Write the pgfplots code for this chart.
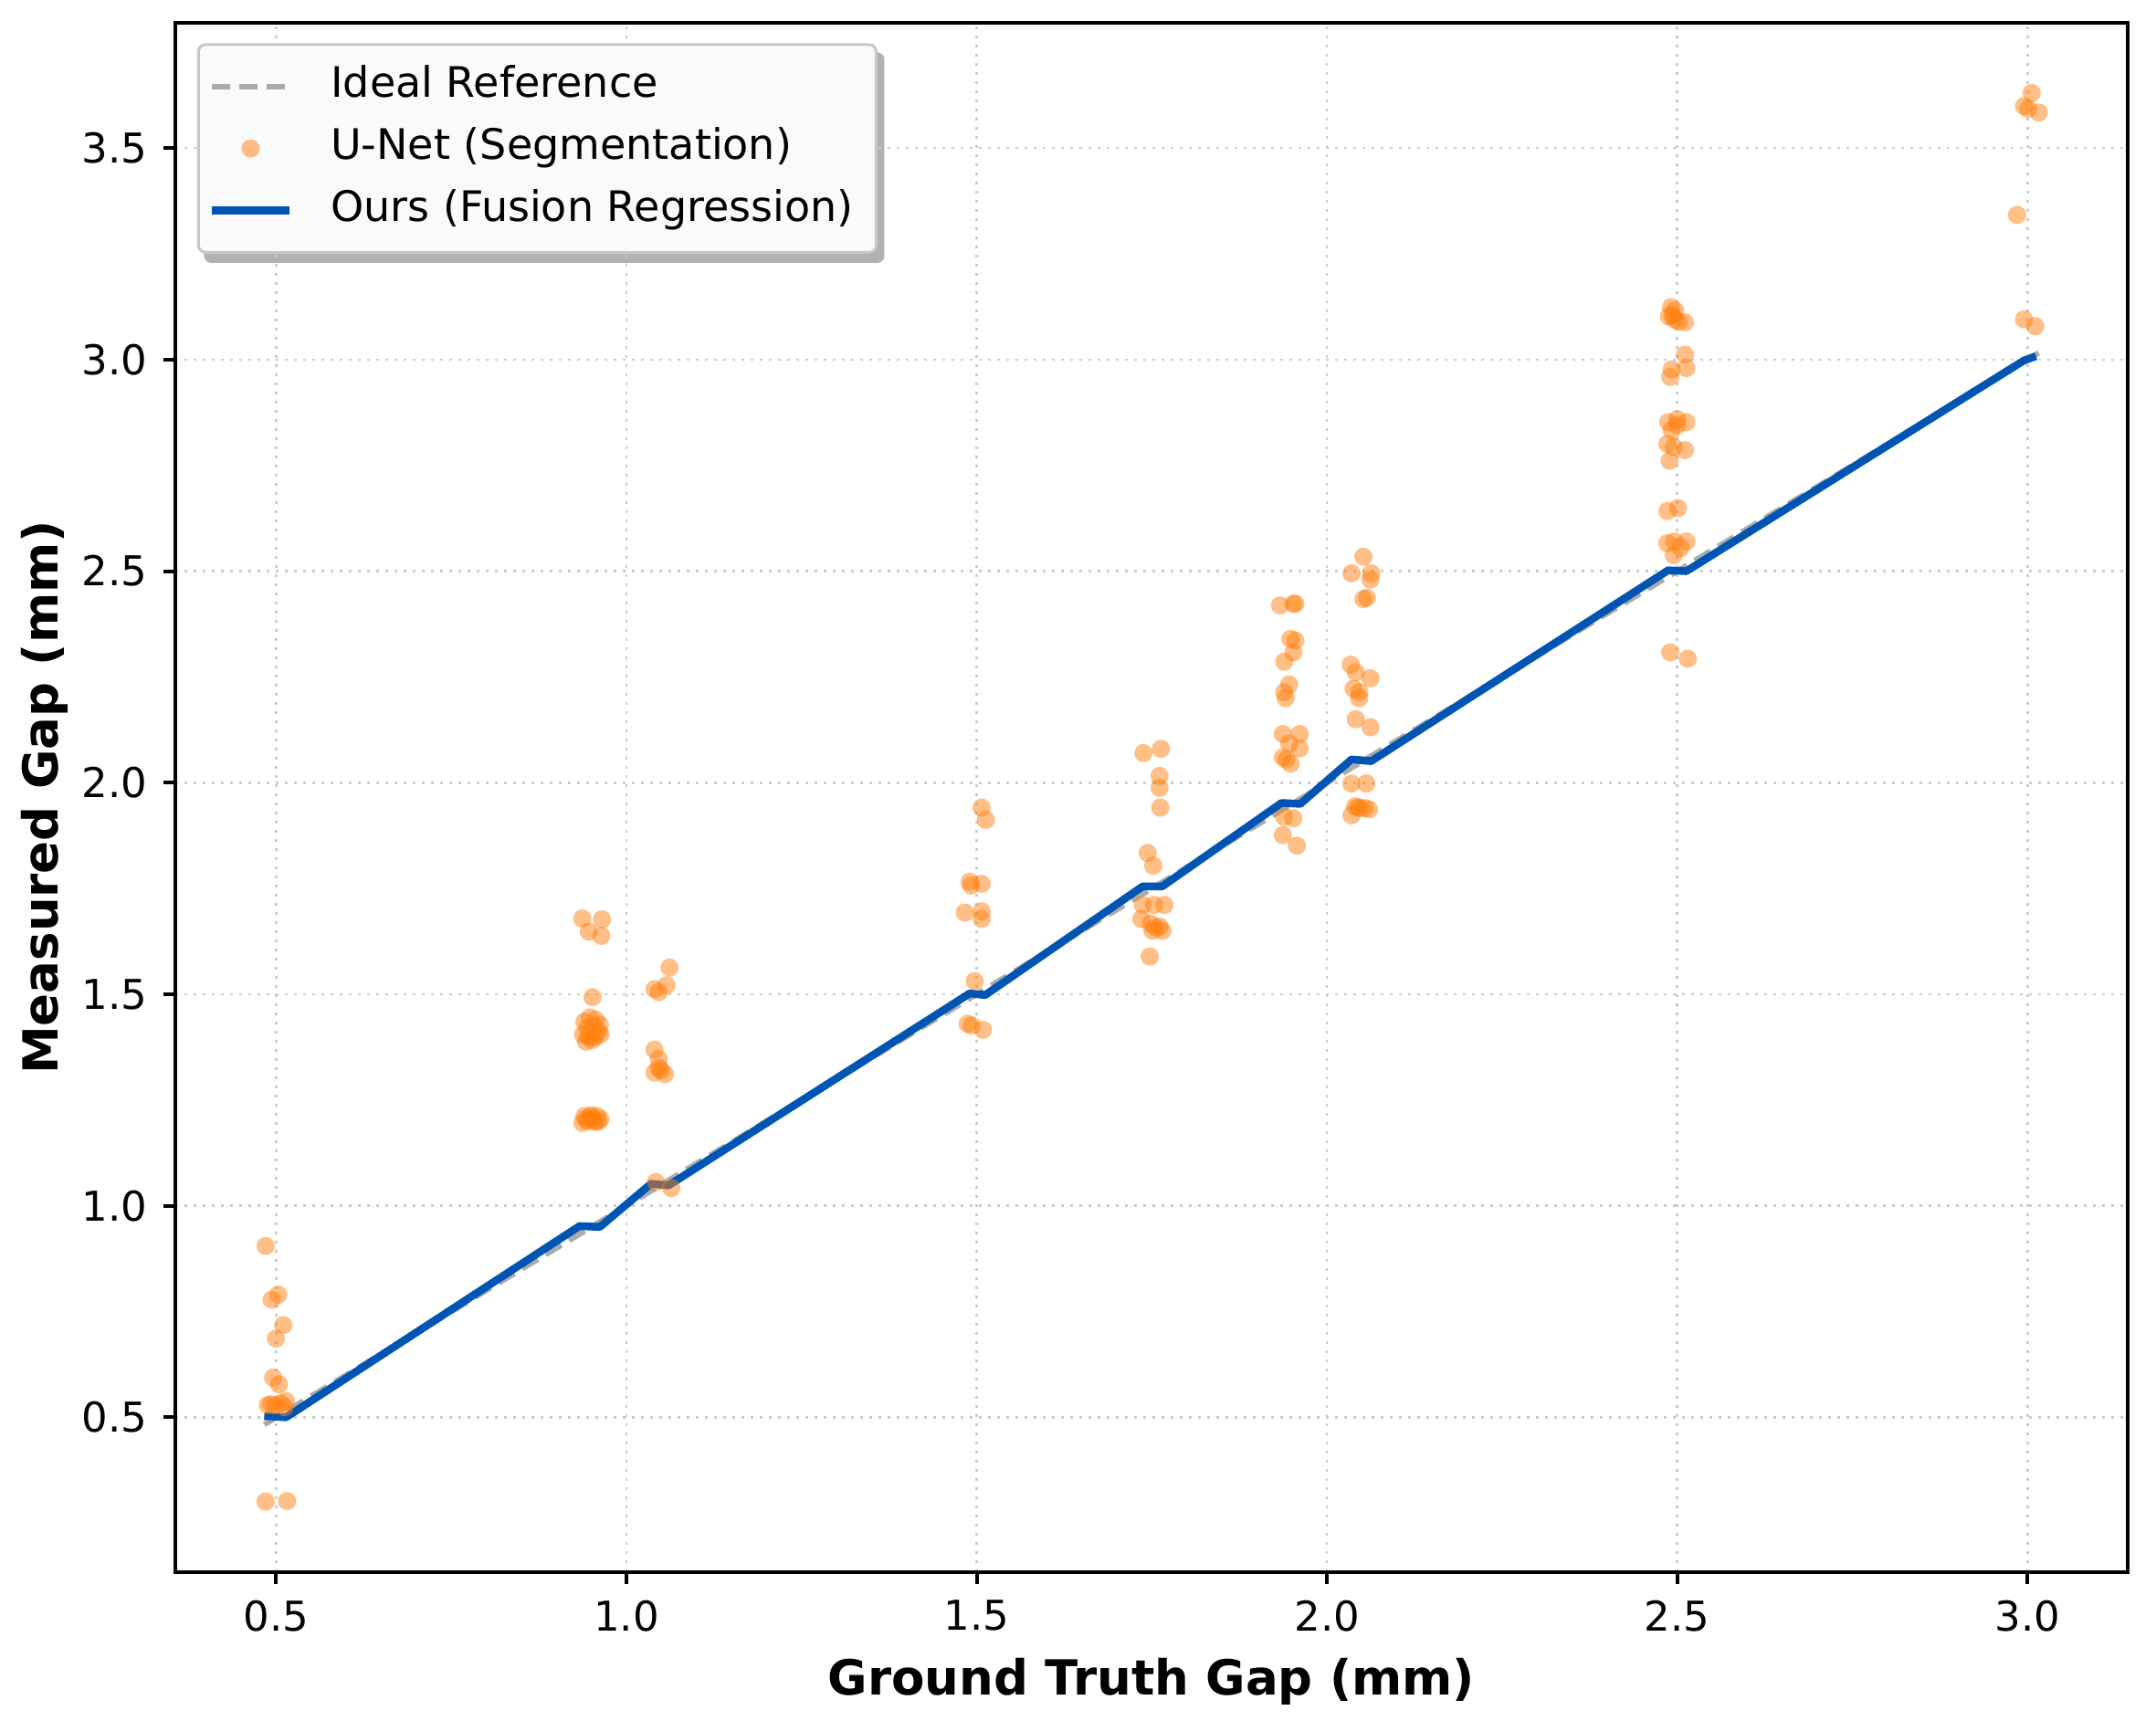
\documentclass[border=0pt]{standalone}
\usepackage{pgfplots}
\pgfplotsset{compat=1.18}
\usepackage{fontspec}
\setmainfont{DejaVu Sans}
\definecolor{oursblue}{RGB}{0,85,180}
\definecolor{taborange}{RGB}{255,127,14}
\pgfdeclarelayer{background}
\pgfsetlayers{background,main}

\pgfplotstableread{
x y
0.485 0.905
0.4935 0.778
0.503 0.790
0.510 0.718
0.4996 0.686
0.4957 0.594
0.504 0.578
0.488 0.529
0.498 0.528
0.514 0.538
0.512 0.524
0.493 0.531
0.506 0.533
0.485 0.301
0.5156 0.302
0.937 1.679
0.965 1.677
0.946 1.648
0.964 1.638
0.9515 1.493
0.940 1.435
0.948 1.445
0.956 1.440
0.962 1.428
0.944 1.420
0.952 1.425
0.960 1.412
0.938 1.405
0.946 1.400
0.955 1.398
0.942 1.388
0.951 1.392
0.963 1.405
0.937 1.196
0.942 1.205
0.948 1.210
0.953 1.203
0.958 1.212
0.963 1.205
0.945 1.200
0.955 1.198
0.950 1.214
0.940 1.212
0.960 1.199
1.0615 1.563
1.057 1.521
1.040 1.512
1.046 1.505
1.040 1.369
1.046 1.347
1.040 1.315
1.055 1.311
1.046 1.326
1.050 1.320
1.042 1.056
1.064 1.042
1.507 1.941
1.513 1.912
1.490 1.766
1.492 1.757
1.507 1.761
1.483 1.693
1.507 1.696
1.507 1.678
1.497 1.531
1.487 1.430
1.493 1.426
1.509 1.416
1.738 2.070
1.763 2.080
1.761 2.016
1.761 1.988
1.762 1.941
1.744 1.834
1.752 1.804
1.737 1.711
1.753 1.711
1.768 1.711
1.735 1.678
1.748 1.667
1.761 1.660
1.765 1.650
1.751 1.650
1.755 1.658
1.747 1.589
1.933 2.419
1.952 2.423
1.955 2.423
1.948 2.340
1.955 2.336
1.952 2.308
1.939 2.286
1.946 2.232
1.939 2.214
1.941 2.200
1.937 2.115
1.961 2.115
1.946 2.092
1.961 2.081
1.937 2.060
1.942 2.055
1.948 2.045
1.939 1.919
1.952 1.916
1.937 1.876
1.957 1.851
2.052 2.534
2.035 2.495
2.063 2.495
2.062 2.480
2.057 2.437
2.052 2.434
2.034 2.279
2.041 2.261
2.062 2.247
2.038 2.222
2.046 2.214
2.046 2.200
2.041 2.150
2.062 2.131
2.035 1.998
2.056 1.998
2.040 1.944
2.047 1.940
2.054 1.940
2.060 1.937
2.044 1.942
2.035 1.923
2.491 3.124
2.488 3.102
2.496 3.095
2.511 3.088
2.497 3.116
2.493 3.105
2.502 3.090
2.511 3.012
2.513 2.980
2.492 2.977
2.490 2.959
2.487 2.852
2.500 2.859
2.513 2.852
2.500 2.845
2.492 2.833
2.486 2.801
2.495 2.793
2.511 2.786
2.489 2.761
2.486 2.642
2.501 2.649
2.486 2.566
2.496 2.570
2.513 2.570
2.505 2.555
2.495 2.538
2.490 2.308
2.515 2.293
3.006 3.630
2.995 3.599
3.001 3.593
3.016 3.584
2.985 3.342
2.995 3.095
3.011 3.079
}\unetdata

\pgfplotstableread{
x y
0.483 0.503
0.514 0.500
0.933 0.952
0.962 0.950
1.035 1.052
1.060 1.048
1.490 1.502
1.512 1.498
1.737 1.755
1.765 1.755
1.935 1.952
1.962 1.950
2.035 2.055
2.063 2.051
2.487 2.502
2.513 2.500
2.995 2.998
3.012 3.008
}\oursdata

\pgfplotstableread{
x y
0.483 0.483
3.016 3.016
}\idealdata

\begin{document}
\begin{tikzpicture}
\begin{axis}[
  scale only axis,
  width=427.6pt, height=339.4pt,
  xmin=0.356, xmax=3.143,
  ymin=0.134, ymax=3.796,
  xtick={0.5,1.0,1.5,2.0,2.5,3.0},
  ytick={0.5,1.0,1.5,2.0,2.5,3.0,3.5},
  /pgf/number format/assume math mode=true,
  xticklabel style={/pgf/number format/.cd,fixed,fixed zerofill,precision=1},
  yticklabel style={/pgf/number format/.cd,fixed,fixed zerofill,precision=1},
  tick label style={font=\fontsize{9}{10.8}\selectfont, black},
  tick align=outside,
  tick pos=left,
  major tick length=2.6pt,
  tick style={black, line width=0.8pt},
  axis line style={black, line width=0.8pt},
  grid=major,
  major grid style={black!20, line width=0.5pt, dash pattern=on 0.6pt off 1.4pt},
  xlabel={\textbf{Ground Truth Gap (mm)}},
  ylabel={\textbf{Measured Gap (mm)}},
  every axis x label/.style={at={(axis description cs:0.5,-0.0707)}, anchor=center, font=\fontsize{10.6}{12.7}\selectfont\bfseries},
  every axis y label/.style={at={(axis description cs:-0.0671,0.5)}, rotate=90, anchor=center, font=\fontsize{10.6}{12.7}\selectfont\bfseries},
  legend cell align=left,
  legend style={
    name=leg,
    at={(0.0112,0.9868)}, anchor=north west,
    draw=black!22, fill=black!2, line width=0.6pt,
    rounded corners=1.5pt,
    font=\fontsize{9.2}{11}\selectfont,
    inner xsep=2pt, inner ysep=3.6pt,
    row sep=2.5pt,
    nodes={inner sep=1pt, text height=6.9pt, text depth=2.2pt},
    /tikz/every odd column/.append style={column sep=7.2pt},
  },
]
\addplot[black!33, line width=1.2pt, dash pattern=on 4pt off 2pt] table[x=x,y=y]{\idealdata};
\addlegendentry{Ideal Reference}
\addplot[taborange, only marks, mark=*, mark size=2pt, mark options={solid, fill=taborange, draw=taborange, draw opacity=0, fill opacity=0.5}] table[x=x,y=y]{\unetdata};
\addlegendentry{U-Net (Segmentation)}
\addplot[oursblue, line width=1.7pt, line join=round] table[x=x,y=y]{\oursdata};
\addlegendentry{Ours (Fusion Regression)\hspace*{2pt}}
\end{axis}
\begin{pgfonlayer}{background}
\fill[black!60, opacity=0.5, rounded corners=1.5pt] ([xshift=1.5pt,yshift=-2pt]leg.south west) rectangle ([xshift=1.5pt,yshift=-2pt]leg.north east);
\end{pgfonlayer}
\path ([xshift=-38.4pt,yshift=-31pt]current axis.south west) rectangle ([xshift=6.2pt,yshift=5pt]current axis.north east);
\end{tikzpicture}
\end{document}
